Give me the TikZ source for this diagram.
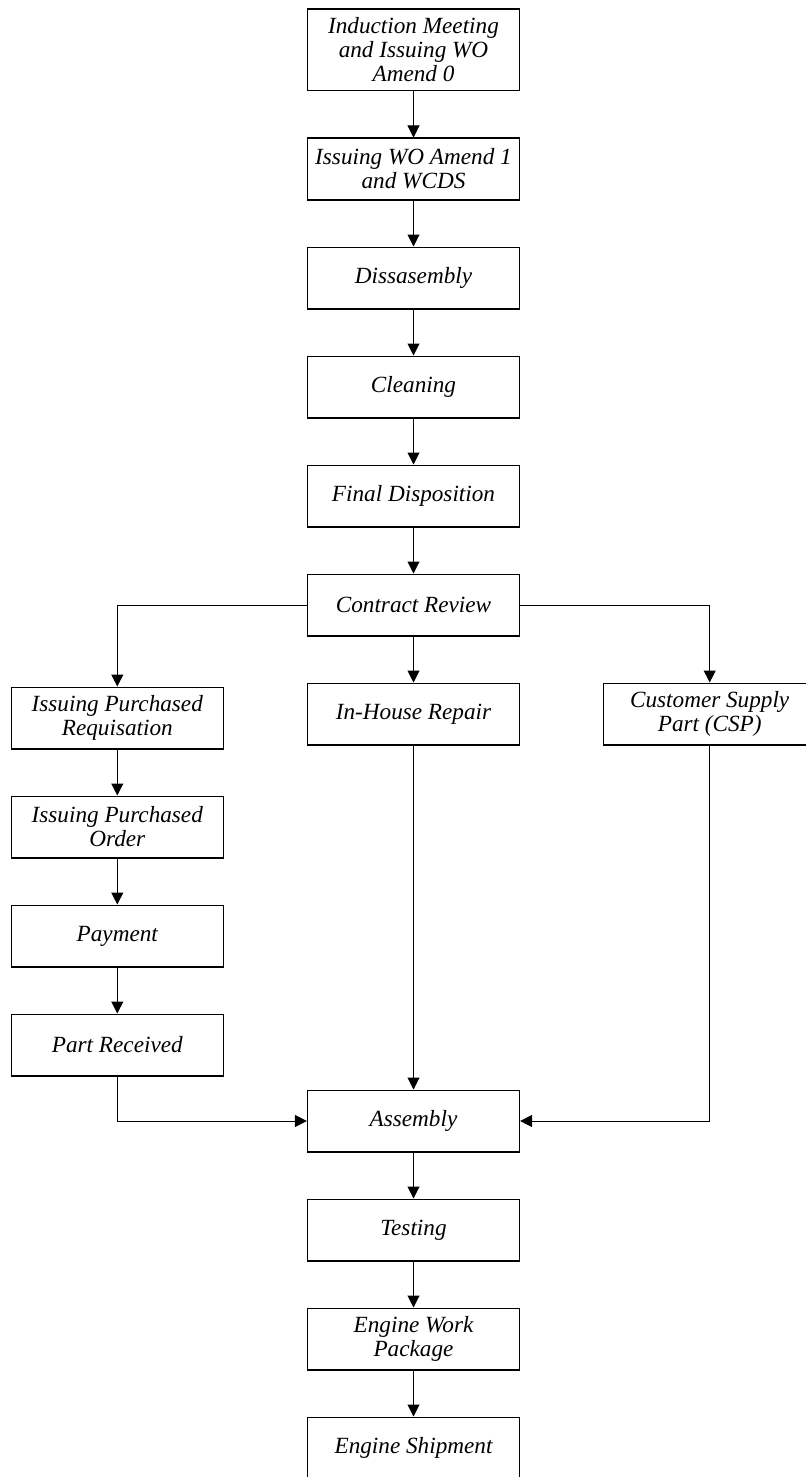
\documentclass[tikz,border=0pt]{standalone}
\usepackage{fontspec}
\setmainfont{Liberation Serif}
\usetikzlibrary{positioning, arrows.meta, calc}

\begin{document}
\begin{tikzpicture}[x=0.5pt, y=0.5pt, >={Triangle[length=6pt, width=6pt]}, node distance=23pt,
    font=\fontsize{11.6}{12}\selectfont\itshape,
    box/.style={draw, line width=0.6pt, minimum width=106pt, minimum height=30.9pt, align=center, inner sep=2pt},
    flow/.style={->, line width=0.5pt}]
\useasboundingbox (0,0) rectangle (806,-1477);

    \node[box, minimum height=40.9pt, anchor=north] (induction) at (413.5,-8.5) {Induction Meeting\\and Issuing WO\\Amend 0};
    \node[box, below = of induction] (amend-one) {Issuing WO Amend 1\\and WCDS};
    \node[box, below = of amend-one] (disassembly) {Dissasembly};
    \node[box, below = of disassembly] (cleaning) {Cleaning};
    \node[box, below = of cleaning] (disposition) {Final Disposition};
    \node[box, below = of disposition] (contract) {Contract Review};
    \node[box, below = of contract] (in-house) {In-House Repair};

\begin{scope}[node distance=41.5pt]
    \node[box, left = of in-house, yshift=-2pt] (requisition) {Issuing Purchased\\Requisation};
    \node[box, right = of in-house] (customer-part) {Customer Supply\\Part (CSP)};
\end{scope}

    \node[box, below = of requisition] (order) {Issuing Purchased\\Order};
    \node[box, below = of order] (payment) {Payment};
    \node[box, below = of payment] (part-received) {Part Received};

    \node[box, below = 172pt of in-house] (assembly) {Assembly};
    \node[box, below = of assembly] (testing) {Testing};
    \node[box, below = of testing] (work-package) {Engine Work\\Package};
    \node[box, below = of work-package] (shipment) {Engine Shipment};

\draw[flow] (induction) -- (amend-one);
\draw[flow] (amend-one) -- (disassembly);
\draw[flow] (disassembly) -- (cleaning);
\draw[flow] (cleaning) -- (disposition);
\draw[flow] (disposition) -- (contract);

\draw[flow] (contract.west) -| (requisition.north);
\draw[flow] (contract) -- (in-house);
\draw[flow] (contract.east) -| (customer-part.north);

\draw[flow] (requisition) -- (order);
\draw[flow] (order) -- (payment);
\draw[flow] (payment) -- (part-received);

\draw[flow] (part-received.south) |- (assembly.west);
\draw[flow] (in-house) -- (assembly);
\draw[flow] (customer-part.south) |- (assembly.east);

\draw[flow] (assembly) -- (testing);
\draw[flow] (testing) -- (work-package);
\draw[flow] (work-package) -- (shipment);

\end{tikzpicture}
\end{document}
